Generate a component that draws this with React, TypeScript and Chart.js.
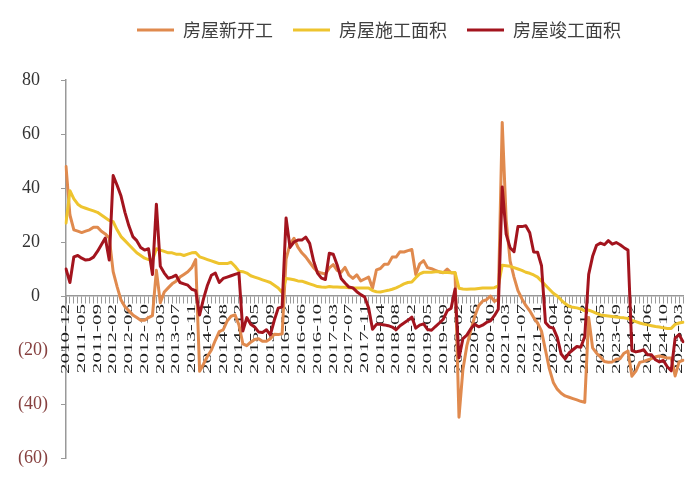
import React, { useEffect, useRef } from "react";
import { Chart, registerables } from "chart.js";

Chart.register(...registerables);

// months as published (Jan folded into Feb), 2010-12 .. 2025-04
const months: string[] = ["2010-12"];
for (let y = 2011; y <= 2025; y++) {
  for (let m = 2; m <= 12; m++) {
    if (y === 2025 && m > 4) break;
    months.push(`${y}-${String(m).padStart(2, "0")}`);
  }
}

const seriesNames = ["房屋新开工", "房屋施工面积", "房屋竣工面积"];
const seriesColors = ["#E08A4E", "#EEC42E", "#A3141E"];

// 房屋新开工 (%)
const newStarts = [
  48,
  30, 24.5, 24, 23.5, 24, 24.5, 25.5, 25.5, 24, 23, 21.5,
  9, 3.5, -1.5, -4, -5.5, -7, -8, -9, -9, -8, -7.3,
  9.5, -2.5, 1.5, 3, 4.5, 5.5, 7, 8, 9, 10.5, 13.5,
  -27.9, -25.2, -22.3, -20, -16.4, -13.2, -12.5, -9.3, -7.5, -7, -10.7,
  -17.7, -18.4, -17.1, -16.1, -15.8, -16.8, -16.8, -15.8, -14.2, -14.3, -14,
  13.7, 19.2, 21.4, 18.1, 16, 14.5, 12.5, 10.5, 9, 8.5, 8.1,
  10.4, 11.6, 9.5, 8.8, 10.6, 7.7, 6.5, 7.8, 5.6, 6.3, 7,
  2.9, 9.7, 10.2, 11.8, 11.8, 14.4, 14.4, 16.4, 16.3, 16.8, 17.2,
  8, 11.9, 13.1, 10.5, 10.1, 9.5, 8.9, 8.6, 10, 8.6, 8.5,
  -44.9, -27.2, -18.4, -12.8, -7.6, -3.6, -1.9, -1.4, 0, -2, -1.2,
  64.3, 28.2, 13, 7, 2, -1, -3.5, -5.5, -8, -10, -13,
  -20, -27, -32, -34.5, -36, -37, -37.5, -38, -38.5, -39, -39.4,
  -8, -19.2, -21.2, -22.6, -24.3, -24.5, -24.4, -23.4, -23.2, -21.2, -20.4,
  -29.7, -27.8, -24.6, -24.2, -23.7, -23.2, -22.5, -22.2, -22.6, -23, -23,
  -29.6, -24.4, -23.8,
];

// 房屋施工面积 (%)
const underConstruction = [
  27,
  39, 36, 34, 33, 32.5, 32, 31.5, 31, 30, 29, 28,
  27.5, 24.5, 22, 20.5, 19, 17.5, 16, 15, 14, 13.5, 13.2,
  17.5, 17, 16.5, 16, 16, 15.5, 15.5, 15, 15.5, 16, 16.1,
  14.5, 14, 13.5, 13, 12.5, 12, 12, 12, 12.5, 11, 9.2,
  9, 8.5, 7.5, 7, 6.5, 6, 5.5, 5, 4, 3, 1.3,
  6.5, 6.3, 6, 5.6, 5.5, 5, 4.5, 4, 3.5, 3.3, 3.2,
  3.5, 3.3, 3.3, 3.2, 3.2, 3.1, 3, 3, 3, 3, 3,
  2, 1.6, 1.5, 1.8, 2.1, 2.5, 3, 3.7, 4.5, 5, 5.2,
  6.8, 8.2, 8.8, 8.8, 8.8, 9, 9, 8.7, 8.7, 8.6, 8.7,
  2.9, 2.6, 2.5, 2.6, 2.6, 2.8, 3, 3, 3, 3.1, 3.7,
  11.4, 11.2, 11, 10.5, 10, 9.5, 8.8, 8.4, 7.8, 7, 5.5,
  4, 2.5, 1, 0, -1.5, -2.8, -3.8, -4.2, -4.4, -4.8, -5.5,
  -5.2, -5.8, -6.4, -7, -7.2, -7.4, -7.6, -7.8, -8, -8.1, -8.3,
  -9, -9.5, -10, -10.4, -10.7, -11, -11.3, -11.5, -11.8, -12, -12,
  -10.5, -10, -9.7,
];

// 房屋竣工面积 (%)
const completions = [
  10,
  5, 14.5, 15, 14, 13.3, 13.5, 14.4, 16.5, 19, 21.5, 13.3,
  44.6, 41, 37, 31, 26, 22, 20.5, 18, 17, 17.5, 8,
  34, 11, 8.5, 6.6, 7, 7.7, 5, 4.5, 4, 2.5, 2,
  -7, -1, 4, 7.7, 8.5, 5, 6.5, 7, 7.5, 8, 8.5,
  -13, -8, -10.5, -11.5, -13.3, -13.5, -12.5, -14.4, -9, -4.5, -4,
  28.9, 18, 20, 20.7, 20.7, 21.8, 19.5, 13, 8.5, 6.6, 6.1,
  15.8, 15.5, 11.5, 6.5, 4.8, 3.3, 3, 1.6, 0.5, -0.4, -4.4,
  -12.3, -10.5, -10.5, -10.7, -11, -11.5, -12.5, -11, -10, -9, -7.8,
  -11.9, -10.8, -10.3, -12.4, -12.7, -11.3, -10, -8.6, -5.5, -4.5, 2.6,
  -22.9, -15.8, -14.5, -12.1, -10.5, -11.4, -10.8, -9.8, -9.2, -7.3, -4.9,
  40.4, 22.9, 17.9, 16.4, 25.7, 25.7, 26, 23.4, 16.3, 16.2, 11.2,
  -9.8, -11.5, -11.9, -15.3, -21.5, -23.3, -21.1, -19.9, -18.7, -19, -15,
  8, 14.7, 18.8, 19.6, 19, 20.5, 19.2, 19.8, 19, 17.9, 17,
  -20.2, -20.7, -20.4, -19.9, -21.8, -21.8, -23.6, -24.4, -23.9, -26.2, -27.7,
  -15.6, -14.3, -16.9,
];

const yMin = -60;
const yMax = 80;
const yStep = 20;
const labelEvery = 4;

const axisGray = "#999999";

// legend spacing + nudge to the right like the original
const legendPlugin = {
  id: "legendTweak",
  beforeInit(chart: any) {
    const fit = chart.legend.fit;
    chart.legend.fit = function () {
      fit.bind(chart.legend)();
      this.height = 79;
    };
  },
  afterLayout(chart: any) {
    chart.legend.left += 7;
    chart.legend.right += 7;
  },
};

// axis text in the accounting style of the original:
// y values as 80 / (20), month labels squeezed and hanging under the zero line
const axisText = {
  id: "axisText",
  beforeDatasetsDraw(chart: any) {
    const { ctx, chartArea } = chart;
    const xs = chart.scales.x;
    const ys = chart.scales.y;
    ctx.save();

    ctx.font = '18px "Liberation Serif", serif';
    ctx.textAlign = "right";
    ctx.textBaseline = "middle";
    ys.ticks.forEach((t: any) => {
      const v = t.value;
      const py = ys.getPixelForValue(v);
      if (v < 0) {
        ctx.fillStyle = "#86403f";
        ctx.fillText(`(${-v})`, chartArea.left - 18, py);
      } else {
        ctx.fillStyle = "#333333";
        ctx.fillText(String(v), chartArea.left - 26, py);
      }
    });

    const top = ys.getPixelForValue(0) + 8;
    ctx.font = '21px "Liberation Serif", serif';
    ctx.fillStyle = "#1e1e1e";
    chart.data.labels.forEach((lab: string, i: number) => {
      if (i % labelEvery) return;
      ctx.save();
      ctx.translate(xs.getPixelForValue(i), top);
      ctx.rotate(-Math.PI / 2);
      ctx.scale(1, 0.6);
      ctx.fillText(lab, 0, 0);
      ctx.restore();
    });
    ctx.restore();
  },
};

const App = () => {
  const chartRef = useRef<HTMLCanvasElement | null>(null);

  useEffect(() => {
    if (!chartRef.current) return;
    const ctx = chartRef.current.getContext("2d");
    if (!ctx) throw new Error("Could not get chart context");

    const values = [newStarts, underConstruction, completions];
    const myChart = new Chart(ctx, {
      type: "line",
      data: {
        labels: months,
        datasets: values.map((d, i) => ({
          label: seriesNames[i],
          data: d,
          borderColor: seriesColors[i],
          backgroundColor: seriesColors[i],
          borderWidth: 3,
          pointRadius: 0,
          tension: 0,
          borderJoinStyle: "round" as const,
          borderCapStyle: "round" as const,
          order: 2 - i,
        })),
      },
      options: {
        responsive: true,
        maintainAspectRatio: false,
        animation: false,
        layout: { padding: { top: -7, left: 53, right: 9, bottom: 17 } },
        plugins: {
          tooltip: { enabled: false },
          legend: {
            position: "top",
            labels: {
              usePointStyle: true,
              pointStyle: "line",
              pointStyleWidth: 37,
              padding: 20,
              color: "#404040",
              font: { family: '"Noto Sans CJK SC", sans-serif', size: 18 },
              sort: (a: any, b: any) => a.datasetIndex - b.datasetIndex,
            },
          },
        },
        scales: {
          x: {
            type: "category",
            position: { y: 0 },
            offset: false,
            grid: {
              display: true,
              drawOnChartArea: false,
              drawTicks: true,
              tickLength: 7,
              color: axisGray,
              lineWidth: 1,
            },
            border: { display: true, color: axisGray, width: 1.5 },
            ticks: { display: false, autoSkip: false },
          },
          y: {
            min: yMin,
            max: yMax,
            grid: {
              display: true,
              drawOnChartArea: false,
              drawTicks: true,
              tickLength: 5,
              color: axisGray,
            },
            border: { display: true, color: axisGray, width: 1.5 },
            ticks: { display: false, stepSize: yStep },
          },
        },
      },
      plugins: [legendPlugin, axisText],
    });

    return () => {
      myChart.destroy();
    };
  }, []);

  return (
    <div style={{ position: "relative", width: "684px", height: "467px" }}>
      <canvas ref={chartRef} />
    </div>
  );
};

export default App;
